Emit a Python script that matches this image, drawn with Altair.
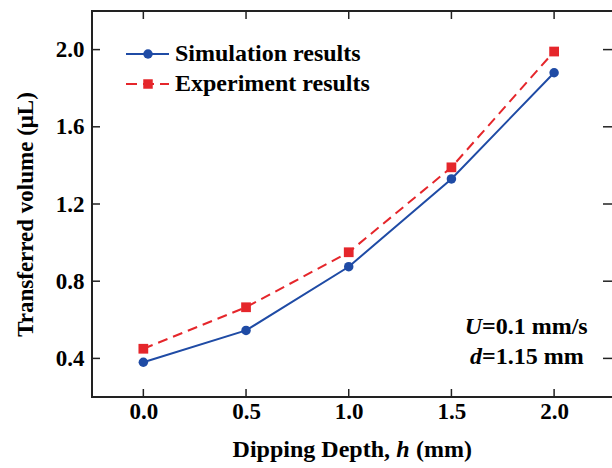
import altair as alt
import pandas as pd

# ---- data ----
depth = [0.0, 0.5, 1.0, 1.5, 2.0]
sim_vals = [0.38, 0.545, 0.875, 1.33, 1.88]
exp_vals = [0.45, 0.665, 0.95, 1.39, 1.99]
series_names = ["Simulation results", "Experiment results"]
x_ticks = [0.0, 0.5, 1.0, 1.5, 2.0]
y_ticks = [0.4, 0.8, 1.2, 1.6, 2.0]

BLUE = "#1F4BA5"
RED = "#E5262B"
FONT = "Liberation Serif"
W, H = 519, 386
XDOM = [-0.25, 2.277]
YDOM = [0.2, 2.2]

sim_df = pd.DataFrame({"depth": depth, "vol": sim_vals})
exp_df = pd.DataFrame({"depth": depth, "vol": exp_vals})
xt_df = pd.DataFrame({"depth": x_ticks})
yt_df = pd.DataFrame({"vol": y_ticks})

xenc = alt.X("depth:Q", scale=alt.Scale(domain=XDOM, nice=False, zero=False),
             axis=alt.Axis(values=x_ticks, format=".1f", ticks=False, domain=False, grid=False,
                           title=None, labelFont=FONT, labelFontWeight="bold", labelFontSize=23,
                           labelColor="black", labelPadding=3))
yenc = alt.Y("vol:Q", scale=alt.Scale(domain=YDOM, nice=False, zero=False),
             axis=alt.Axis(values=y_ticks, format=".1f", ticks=False, domain=False, grid=False,
                           title="Transferred volume (μL)", titleFont=FONT, titleFontWeight="bold",
                           titleFontSize=23, titleColor="black", titleAngle=-90, titleX=-67,
                           titleY=H / 2 + 10, titleAlign="center", titleBaseline="middle",
                           labelFont=FONT, labelFontWeight="bold", labelFontSize=23,
                           labelColor="black", labelPadding=8))

base_sim = alt.Chart(sim_df).encode(x=xenc, y=yenc)
base_exp = alt.Chart(exp_df).encode(x=alt.X("depth:Q"), y=alt.Y("vol:Q"))

sim_line = base_sim.mark_line(color=BLUE, strokeWidth=2)
sim_pts = base_sim.mark_point(color=BLUE, filled=True, shape="circle", size=90, opacity=1)
exp_line = base_exp.mark_line(color=RED, strokeWidth=2, strokeDash=[10, 6])
exp_pts = base_exp.mark_point(color=RED, filled=True, shape="square", size=95, opacity=1)

# frame (right border lies just outside the picture, as in the original crop)
one = pd.DataFrame({"k": [0]})
frame_style = dict(color="#222222", strokeWidth=2)
fl = alt.Chart(one).mark_rule(**frame_style).encode(x=alt.value(0), y=alt.value(-1), y2=alt.value(H + 1))
ft = alt.Chart(one).mark_rule(**frame_style).encode(y=alt.value(0), x=alt.value(0), x2=alt.value(W + 5))
fb = alt.Chart(one).mark_rule(**frame_style).encode(y=alt.value(H), x=alt.value(0), x2=alt.value(W + 5))

# inward ticks on all four sides
tick_style = dict(color="#222222", strokeWidth=1.5)
tb = alt.Chart(xt_df).mark_rule(**tick_style).encode(x=alt.X("depth:Q"), y=alt.value(H), y2=alt.value(H - 8))
tt = alt.Chart(xt_df).mark_rule(**tick_style).encode(x=alt.X("depth:Q"), y=alt.value(0), y2=alt.value(8))
tl = alt.Chart(yt_df).mark_rule(**tick_style).encode(y=alt.Y("vol:Q"), x=alt.value(0), x2=alt.value(8))
tr = alt.Chart(yt_df).mark_rule(**tick_style).encode(y=alt.Y("vol:Q"), x=alt.value(W + 2), x2=alt.value(W - 8))

# legend
leg_layers = []
leg_specs = [(series_names[0], BLUE, "circle", None, 43),
             (series_names[1], RED, "square", [11, 6], 73)]
for name, col, shp, dash, yy in leg_specs:
    ldf = pd.DataFrame({"label": [name]})
    rule_kw = dict(color=col, strokeWidth=2)
    if dash:
        rule_kw["strokeDash"] = dash
    leg_layers.append(alt.Chart(ldf).mark_rule(**rule_kw).encode(
        x=alt.value(34), x2=alt.value(77), y=alt.value(yy)))
    leg_layers.append(alt.Chart(ldf).mark_point(color=col, filled=True, shape=shp,
                                                 size=90, opacity=1).encode(
        x=alt.value(56), y=alt.value(yy)))
    leg_layers.append(alt.Chart(ldf).mark_text(font=FONT, fontWeight="bold", fontSize=24,
                                                align="left", baseline="middle", color="black").encode(
        x=alt.value(83), y=alt.value(yy), text="label:N"))

# annotation
def txt(s, x, y, align, style="normal", size=24):
    return alt.Chart(pd.DataFrame({"s": [s]})).mark_text(
        font=FONT, fontWeight="bold", fontStyle=style, fontSize=size, align=align,
        baseline="middle", color="black").encode(x=alt.value(x), y=alt.value(y), text="s:N")

ann = [
    txt("U", 390, 316, "right", "italic"),
    txt("=0.1 mm/s", 390, 316, "left"),
    txt("d", 390, 346, "right", "italic"),
    txt("=1.15 mm", 390, 346, "left"),
    # x-axis title with italic h
    txt("Dipping Depth,", 298, 439, "right"),
    txt("h", 311, 439, "center", "italic"),
    txt("(mm)", 324, 439, "left"),
]

chart = alt.layer(
    sim_line, exp_line, sim_pts, exp_pts, fl, ft, fb, tb, tt, tl, tr, *leg_layers, *ann
).properties(
    width=W, height=H,
    background="white",
    autosize=alt.AutoSizeParams(type="none"),
    padding={"left": 92, "top": 11, "right": 1, "bottom": 71},
).configure_view(
    strokeWidth=0
)

chart.save("out.html", embed_options={"renderer": "svg", "actions": False})
